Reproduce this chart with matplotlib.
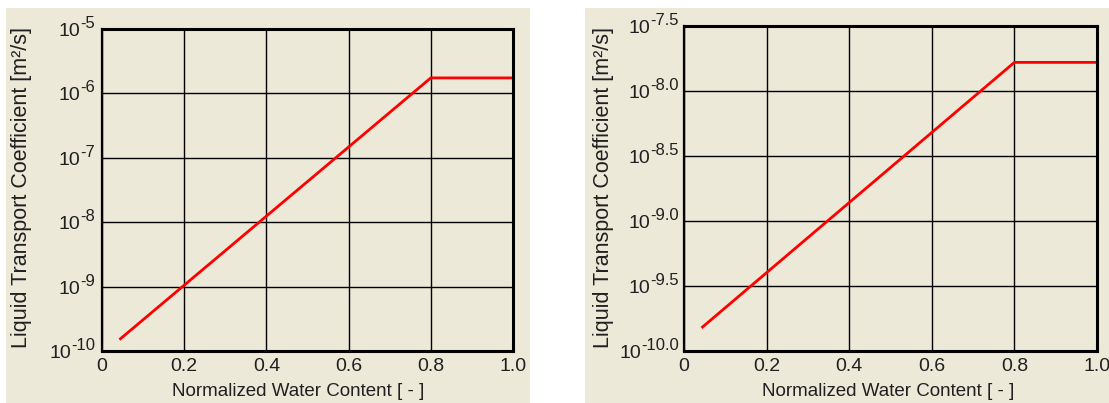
import matplotlib
matplotlib.use("Agg")
import matplotlib.pyplot as plt
from matplotlib.patches import Rectangle
from matplotlib.transforms import IdentityTransform

plt.rcParams['font.family'] = ['Liberation Sans', 'DejaVu Sans']

# water content vs liquid transport coefficient
x_left = [0.045, 0.8, 1.0]
d_left = [1.55e-10, 1.74e-6, 1.74e-6]
x_right = [0.045, 0.8, 1.0]
d_right = [1.53e-10, 1.66e-8, 1.66e-8]

xticks = [0, 0.2, 0.4, 0.6, 0.8, 1.0]
xtick_labels = ["0", "0.2", "0.4", "0.6", "0.8", "1.0"]
exp_left = [-10, -9, -8, -7, -6, -5]
exp_left_labels = ["-10", "-9", "-8", "-7", "-6", "-5"]
exp_right = [-10.0, -9.5, -9.0, -8.5, -8.0, -7.5]
exp_right_labels = ["-10.0", "-9.5", "-9.0", "-8.5", "-8.0", "-7.5"]

xlabel = "Normalized Water Content [ - ]"
ylabel = "Liquid Transport Coefficient [m²/s]"

BG = "#ECE9D8"
TXT = "#202020"
W, H = 1109, 403
fig = plt.figure(figsize=(W / 100, H / 100), dpi=100)
fig.patch.set_facecolor("white")

# beige panels behind each chart
fig.patches.append(Rectangle((6 / W, 0), 524 / W, 395 / H, transform=fig.transFigure,
                             facecolor=BG, edgecolor="none", zorder=-5))
fig.patches.append(Rectangle((585 / W, 0), 524 / W, 395 / H, transform=fig.transFigure,
                             facecolor=BG, edgecolor="none", zorder=-5))

ax1 = fig.add_axes([102 / W, 52 / H, 411 / W, 322 / H])
ax2 = fig.add_axes([684 / W, 52 / H, 413 / W, 325 / H])

setups = [
    (ax1, x_left, d_left, exp_left, exp_left_labels, 22, 298, -7),
    (ax2, x_right, d_right, exp_right, exp_right_labels, 604, 888, -5),
]

exp_texts = []
for ax, xs, ds, exps, exp_labels, ylab_x, xlab_x, exp_dx in setups:
    ax.set_facecolor(BG)
    ax.plot(xs, ds, color="red", lw=2.0, zorder=3)
    ax.set_yscale("log")
    ax.set_xlim(0, 1.0)
    ax.set_ylim(10 ** exps[0], 10 ** exps[-1])
    ax.set_xticks(xticks)
    ax.set_xticklabels(xtick_labels, fontsize=14, color=TXT)
    ax.set_yticks([10 ** e for e in exps])
    ax.yaxis.set_minor_locator(matplotlib.ticker.NullLocator())
    ax.set_yticklabels([])
    ax.tick_params(length=0, pad=5)
    ax.grid(True, color="black", lw=1.0)
    ax.set_axisbelow(False)
    for s in ax.spines.values():
        s.set_linewidth(2.2)
        s.set_zorder(4)
    ax.spines["left"].set_linewidth(1.6)

    fig.text(ylab_x / W, (H - 188) / H, ylabel, rotation=90, ha="center", va="center",
             fontsize=15.5, color=TXT)
    fig.text(xlab_x / W, 7 / H, xlabel, ha="center", va="baseline",
             fontsize=13.5, color=TXT)

    # exponent part of the "10^n" tick labels
    for e, lab in zip(exps, exp_labels):
        t = ax.annotate(lab, xy=(0, 10 ** e), xycoords=("axes fraction", "data"),
                        xytext=(exp_dx, 1), textcoords="offset pixels",
                        ha="right", va="baseline", fontsize=12, color=TXT,
                        annotation_clip=False)
        exp_texts.append(t)

fig.canvas.draw()
renderer = fig.canvas.get_renderer()
for t in exp_texts:
    bb = t.get_window_extent(renderer)
    # baseline of exponent sits just above the tick, the "10" about 7px below it
    tick_y = t.axes.transData.transform((0, t.xy[1]))[1]
    fig.text(bb.x0, tick_y - 7, "10", transform=IdentityTransform(),
             ha="right", va="baseline", fontsize=14, color=TXT)

fig.savefig("out.png", dpi=100, facecolor="white")
